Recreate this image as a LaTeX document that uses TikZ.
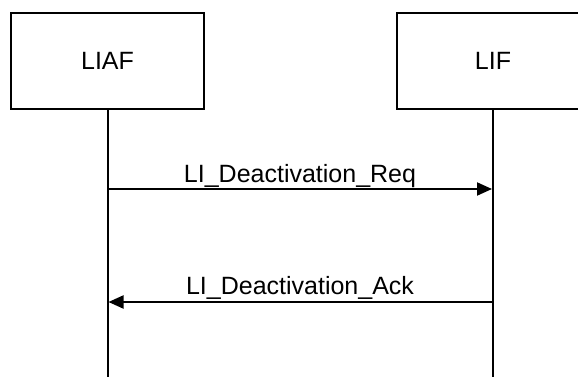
\documentclass[tikz,border=0pt]{standalone}
\usepackage{fontspec}
\setmainfont{Liberation Sans}
\usetikzlibrary{arrows.meta}
\begin{document}
\begin{tikzpicture}[x=1pt,y=-1pt,
  entity/.style={draw, line width=2pt, minimum width=193pt, minimum height=96pt, inner sep=0pt, font=\fontsize{25}{30}\selectfont},
  life/.style={line width=2pt},
  msg/.style={line width=2pt, -{Triangle[length=15pt,width=13pt]}},
  lbl/.style={anchor=base, font=\fontsize{25}{30}\selectfont, inner sep=0pt}]
\useasboundingbox (0,0) rectangle (578,377);
\clip (0,0) rectangle (578,377);
\node[entity] (liaf) at (107.5,61) {LIAF};
\node[entity] (lif) at (493,61) {LIF};
\coordinate (liafend) at (107.5,380);
\coordinate (lifend) at (493,380);
\draw[life] (liaf.south) -- (liafend);
\draw[life] (lif.south) -- (lifend);
\coordinate (reqA) at (107.5,189);
\coordinate (reqB) at (492,189);
\coordinate (ackA) at (493,302);
\coordinate (ackB) at (108.5,302);
\draw[msg] (reqA) -- (reqB);
\draw[msg] (ackA) -- (ackB);
\node[lbl] (reqlbl) at (300,182) {LI\_Deactivation\_Req};
\node[lbl] (acklbl) at (300,294) {LI\_Deactivation\_Ack};
\end{tikzpicture}
\end{document}
